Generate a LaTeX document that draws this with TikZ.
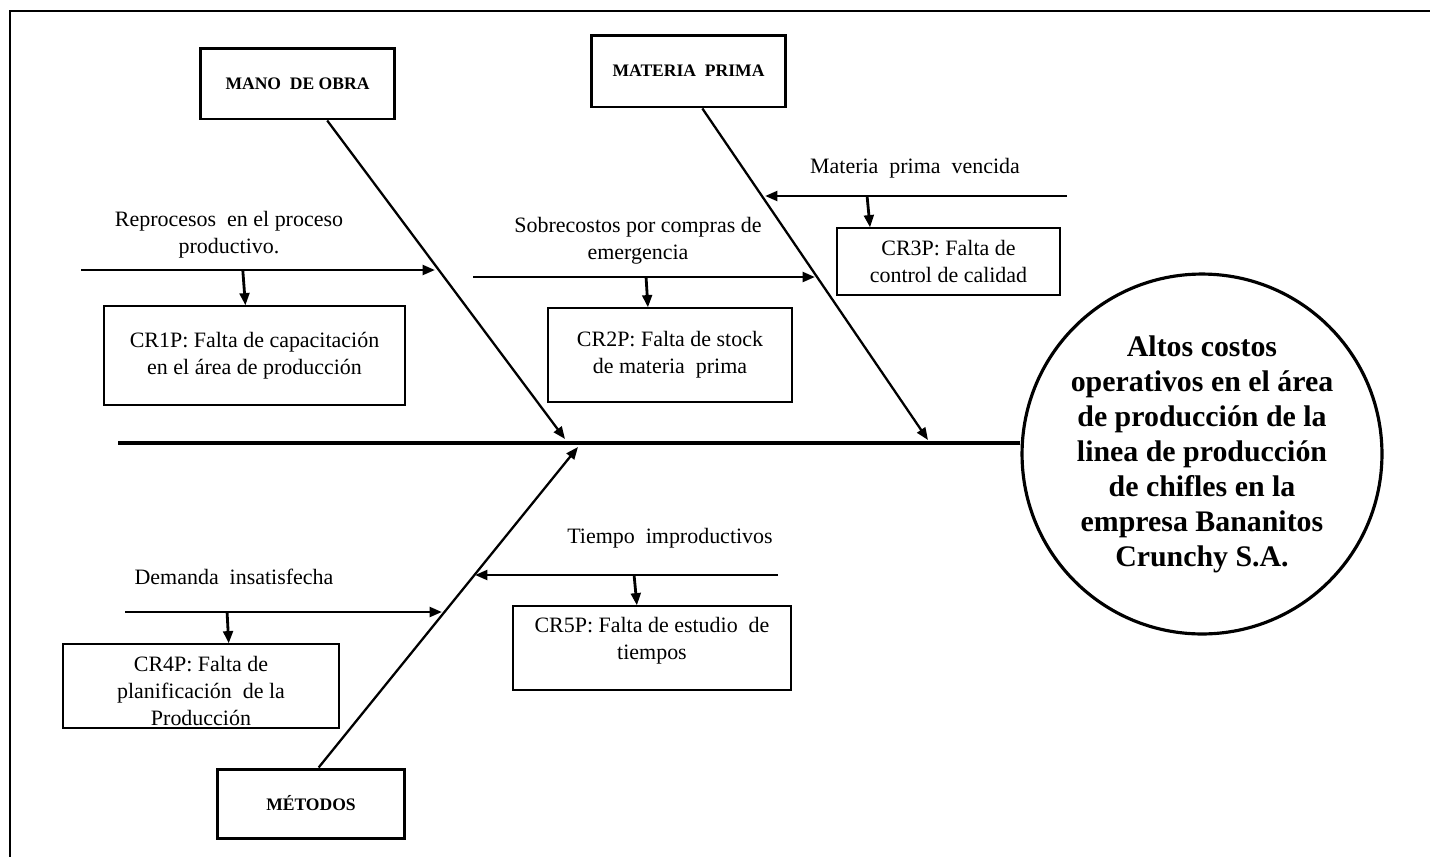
\documentclass[tikz,border=0pt]{standalone}
\usepackage{fontspec}
\setmainfont{Liberation Serif}
\usetikzlibrary{arrows.meta,calc}

\begin{document}
\begin{tikzpicture}[
    x=0.02cm, y=-0.02cm,
    catbox/.style={draw, line width=1.7pt, inner sep=0pt,
                   font=\fontsize{10}{12}\selectfont\bfseries, align=center},
    causebox/.style={draw, line width=0.7pt, inner sep=0pt,
                     font=\fontsize{12.5}{15.4}\selectfont, align=center},
    effect/.style={circle, draw, line width=1.8pt, minimum size=7.2cm, inner sep=0pt,
                   font=\fontsize{17}{19.9}\selectfont\bfseries, align=center},
    lbl/.style={font=\fontsize{12.5}{15.4}\selectfont, align=center},
    spine/.style={line width=2.4pt},
    bone/.style={-{Triangle[length=7pt,width=5.5pt]}, line width=1.3pt},
    arr/.style={-{Triangle[length=7pt,width=5.5pt]}, line width=1.6pt},
  ]
  \useasboundingbox (0,0) rectangle (1430,856);
  \clip (0,0) rectangle (1430,856);
  \draw[line width=1.3pt] (10,11) rectangle (1460,890);

  % Effect and spine
  \node[effect] (efecto) at (1202,454) {Altos costos\\operativos en el área\\de producción de la\\linea de producción\\de chifles en la\\empresa Bananitos\\Crunchy S.A.};
  \coordinate (cola) at (118,443);
  \draw[spine] (cola) -- (cola -| efecto.west);

  % Categories
  \node[catbox, minimum width=3.9cm, minimum height=1.42cm] (mano) at (297.5,83.5) {MANO\ \ DE OBRA};
  \node[catbox, minimum width=3.9cm, minimum height=1.44cm] (materia) at (688.5,71) {MATERIA\ \ PRIMA};
  \node[catbox, minimum width=3.76cm, minimum height=1.38cm] (metodos) at (311,803.5) {MÉTODOS};

  % Bones
  \coordinate (pmano) at (565,439);
  \coordinate (pmateria) at (928,440);
  \coordinate (pmetodos) at (578,447);
  \draw[bone] ($(mano.south west)!0.65!(mano.south east)$) -- (pmano);
  \draw[bone] ($(materia.south west)!0.57!(materia.south east)$) -- (pmateria);
  \draw[bone] ($(metodos.north west)!0.54!(metodos.north east)$) -- (pmetodos);

  % Root causes
  \node[causebox, minimum width=6.02cm, minimum height=1.98cm] (cr1) at (254.5,355.5) {CR1P: Falta de capacitación\\en el área de producción};
  \node[causebox, minimum width=4.88cm, minimum height=1.88cm] (cr2) at (670,355) {CR2P: Falta de stock\\de materia\ \ prima};
  \node[causebox, minimum width=4.46cm, minimum height=1.34cm] (cr3) at (948.5,261.5) {CR3P: Falta de\\control de calidad};
  \node[causebox, minimum width=5.52cm, minimum height=1.68cm] (cr4) at (201,686) {\rule{0pt}{14.5pt}CR4P: Falta de\\planificación\ \ de la\\Producción};
  \node[causebox, minimum width=5.56cm, minimum height=1.68cm] (cr5) at (652,648) {CR5P: Falta de estudio\ \ de\\tiempos\rule[-10.7pt]{0pt}{1pt}};

  % Causes
  \node[lbl] (lrep) at (229,235) {Reprocesos\ \ en el proceso\\productivo.};
  \node[lbl] (lsob) at (638,241) {Sobrecostos por compras de\\emergencia};
  \node[lbl] (lven) at (915,168) {Materia\ \ prima\ \ vencida};
  \node[lbl] (ldem) at (234,577) {Demanda\ \ insatisfecha};
  \node[lbl] (ltie) at (670,538) {Tiempo\ \ improductivos};

  \coordinate (rep0) at (81,270);   \coordinate (rep1) at (435,270);
  \coordinate (sob0) at (473,277);  \coordinate (sob1) at (815,277);
  \coordinate (ven0) at (1067,196); \coordinate (ven1) at (765,196);
  \coordinate (dem0) at (125,612);  \coordinate (dem1) at (442,612);
  \coordinate (tie0) at (778,575);  \coordinate (tie1) at (475,575);
  \draw[arr] (rep0) -- (rep1);
  \draw[arr] (sob0) -- (sob1);
  \draw[arr] (ven0) -- (ven1);
  \draw[arr] (dem0) -- (dem1);
  \draw[arr] (tie0) -- (tie1);

  % Links to root causes
  \draw[arr] ($(rep0)!0.457!(rep1)$) -- ($(cr1.north west)!0.47!(cr1.north east)$);
  \draw[arr] ($(sob0)!0.506!(sob1)$) -- ($(cr2.north west)!0.41!(cr2.north east)$);
  \draw[arr] ($(ven0)!0.662!(ven1)$) -- ($(cr3.north west)!0.15!(cr3.north east)$);
  \draw[arr] ($(dem0)!0.322!(dem1)$) -- ($(cr4.north west)!0.60!(cr4.north east)$);
  \draw[arr] ($(tie0)!0.475!(tie1)$) -- ($(cr5.north west)!0.446!(cr5.north east)$);
\end{tikzpicture}
\end{document}
